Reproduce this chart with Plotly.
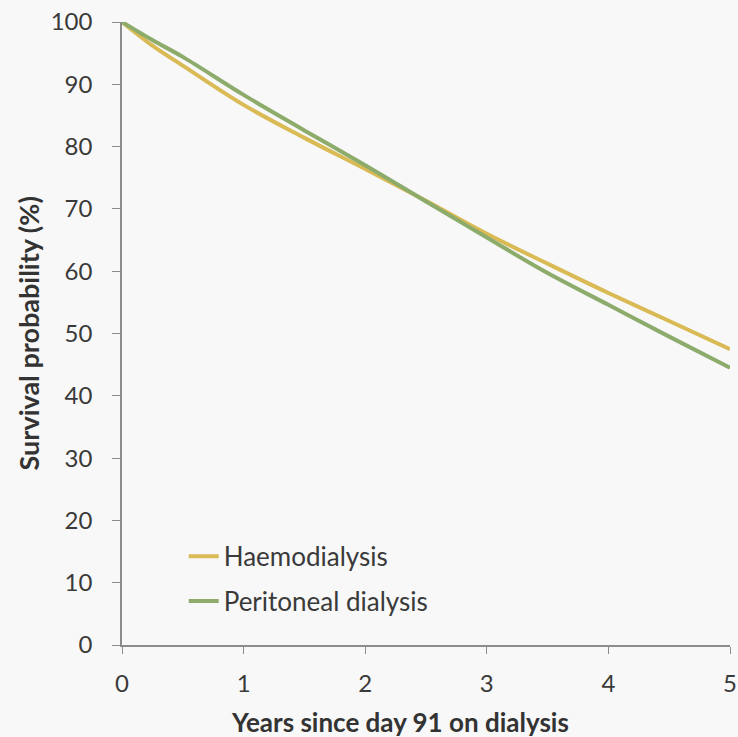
import plotly.graph_objects as go

years = [0, 0.25, 0.5, 1, 1.5, 2, 2.5, 3, 3.5, 4, 4.5, 5]
haemodialysis = [100, 96.2, 93.0, 86.7, 81.4, 76.4, 71.3, 66.0, 61.2, 56.5, 52.0, 47.5]
peritoneal = [100, 97.1, 94.4, 88.3, 82.6, 77.0, 71.2, 65.4, 59.7, 54.6, 49.5, 44.5]

x_ticks = [0, 1, 2, 3, 4, 5]
y_ticks = list(range(0, 101, 10))
x_title = "Years since day 91 on dialysis"
y_title = "Survival probability (%)"

fig = go.Figure()
fig.add_trace(go.Scatter(x=years, y=haemodialysis, mode="lines", name="Haemodialysis",
                         legendgroup="hd",
                         line=dict(color="#d9ba55", width=4, shape="spline", smoothing=1.0)))
fig.add_trace(go.Scatter(x=years, y=peritoneal, mode="lines", name="Peritoneal dialysis",
                         legendgroup="pd",
                         line=dict(color="#8dac6c", width=4, shape="spline", smoothing=1.0)))

font_family = "Lato, Open Sans, sans-serif"
bg = "#f8f8f8"
fig.update_layout(
    width=738, height=737,
    margin=dict(l=122, r=8, t=22, b=92),
    paper_bgcolor=bg, plot_bgcolor=bg,
    font=dict(family=font_family, size=24, color="#3a3a3a"),
    showlegend=True,
    legend=dict(x=0.1015, y=0.18, xanchor="left", yanchor="top", bgcolor="rgba(0,0,0,0)",
                font=dict(size=26, color="#3a3a3a"), tracegroupgap=8),
    xaxis=dict(range=[0, 5], tickvals=x_ticks, showgrid=False, zeroline=False, automargin=False,
               showline=True, linecolor="#8c8c8c", linewidth=1.5,
               ticks="outside", ticklen=7, tickcolor="#8c8c8c", ticklabelstandoff=9,
               tickfont=dict(size=24)),
    yaxis=dict(range=[0, 100], tickvals=y_ticks, showgrid=False, zeroline=False, automargin=False,
               showline=True, linecolor="#8c8c8c", linewidth=1.5,
               ticks="outside", ticklen=8, tickcolor="#8c8c8c", ticklabelstandoff=15,
               tickfont=dict(size=24)),
    annotations=[
        dict(text="<b>%s</b>" % x_title, xref="paper", yref="paper", x=0.457, y=-0.1236,
             xanchor="center", yanchor="middle", showarrow=False,
             font=dict(size=26, color="#333333")),
        dict(text="<b>%s</b>" % y_title, xref="paper", yref="paper", x=-0.153, y=0.5,
             xanchor="center", yanchor="middle", showarrow=False, textangle=-90,
             font=dict(size=27, color="#333333")),
    ],
)
fig.write_html("out.html", config={"displayModeBar": False},
               post_script="document.body.style.margin='0';document.body.style.background='%s';" % bg)
